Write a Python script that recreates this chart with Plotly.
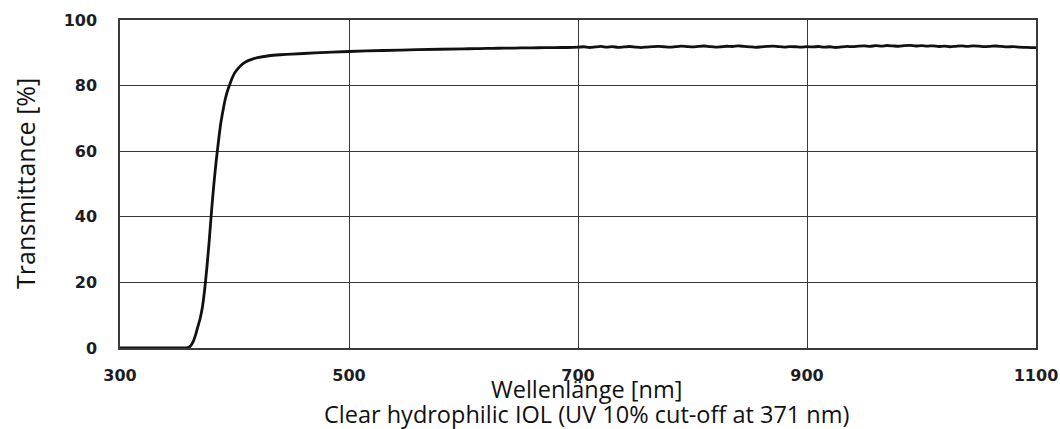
import plotly.graph_objects as go

# Wavelength [nm]
wavelength = [
    300, 320, 340, 350, 355, 358, 360, 362, 364, 366, 368, 370, 372, 374, 376, 378,
    380, 382, 384, 386, 388, 390, 392, 394, 396, 398, 400, 403, 406, 410, 415,
    420, 430, 440, 450, 470, 500, 530, 560, 600, 610, 620, 630, 640, 650, 660,
    670, 680, 690,
    700, 705, 710, 715, 720, 725, 730, 735, 740, 745, 750, 755, 760, 765, 770,
    775, 780, 785, 790, 795, 800, 805, 810, 815, 820, 825, 830, 835, 840, 845,
    850, 855, 860, 865, 870, 875, 880, 885, 890, 895, 900, 905, 910, 915, 920,
    925, 930, 935, 940, 945, 950, 955, 960, 965, 970, 975, 980, 985, 990, 995,
    1000, 1005, 1010, 1015, 1020, 1025, 1030, 1035, 1040, 1045, 1050, 1055, 1060,
    1065, 1070, 1075, 1080, 1085, 1090, 1095, 1100,
]

# Transmittance [%]
transmittance = [
    0.0, 0.0, 0.0, 0.0, 0.0, 0.05, 0.2, 0.8, 2.0, 4.0, 6.5, 9.0, 12.5, 18.0, 25.0, 33.0,
    42.0, 50.0, 57.0, 63.0, 68.5, 72.5, 76.0, 78.5, 80.5, 82.3, 83.8, 85.2, 86.3, 87.3, 88.0,
    88.5, 89.1, 89.4, 89.6, 89.95, 90.4, 90.7, 90.95, 91.2, 91.27, 91.33, 91.38, 91.43, 91.48, 91.52,
    91.55, 91.60, 91.62,
    91.70, 91.85, 91.62, 91.78, 91.95, 91.70, 91.88, 91.66, 91.80, 91.92, 91.74, 91.60, 91.76, 91.88, 91.98,
    91.84, 91.70, 91.86, 92.02, 91.90, 91.78, 91.95, 92.08, 91.88, 91.72, 91.84, 92.00, 91.92, 92.10, 91.96,
    91.82, 91.68, 91.80, 91.94, 92.04, 91.88, 91.76, 91.90, 91.84, 91.72, 91.86, 91.78, 91.92, 91.70, 91.84,
    91.62, 91.80, 91.96, 91.86, 92.04, 92.12, 91.96, 92.18, 92.06, 92.22, 92.10, 92.00, 92.16, 92.24, 92.08,
    92.20, 92.02, 92.14, 91.92, 92.06, 91.84, 91.98, 92.10, 91.96, 92.12, 92.04, 91.90, 91.98,
    92.08, 91.94, 91.80, 91.88, 91.72, 91.66, 91.60, 91.56,
]

x_ticks = [300, 500, 700, 900, 1100]
y_ticks = [0, 20, 40, 60, 80, 100]

x_title = "Wellenlänge [nm]"
y_title = "Transmittance [%]"
caption = "Clear hydrophilic IOL (UV 10% cut-off at 371 nm)"

fig = go.Figure()
fig.add_trace(go.Scatter(
    x=wavelength, y=transmittance, mode="lines",
    line=dict(color="#111111", width=2.8, shape="spline", smoothing=0.6),
    showlegend=False, hoverinfo="x+y",
))

grid_color = "#3a3a3a"
tick_font = dict(family="DejaVu Sans", size=16, color="#1c1c24", weight="bold")
text_font = dict(family="Open Sans", size=23.5, color="#111111")

fig.update_layout(
    width=1060, height=429,
    margin=dict(l=120, r=24, t=20, b=81),
    paper_bgcolor="white", plot_bgcolor="white",
    font=dict(family="Open Sans", color="#111111"),
    xaxis=dict(
        range=[300, 1100], tickvals=x_ticks, ticktext=[str(v) for v in x_ticks],
        showgrid=True, gridcolor=grid_color, gridwidth=1,
        showline=True, linecolor=grid_color, linewidth=1.5, mirror=True,
        ticks="", tickfont=tick_font, ticklabelstandoff=12, zeroline=False,
        automargin=False,
    ),
    yaxis=dict(
        range=[0, 100], tickvals=y_ticks, ticktext=[str(v) for v in y_ticks],
        showgrid=True, gridcolor=grid_color, gridwidth=1,
        showline=True, linecolor=grid_color, linewidth=1.5, mirror=True,
        ticks="", tickfont=tick_font, ticklabelstandoff=18, zeroline=False,
        automargin=False,
    ),
    annotations=[
        dict(text=x_title, xref="paper", yref="paper", x=0.509, y=0, yshift=-41,
             xanchor="center", yanchor="middle", showarrow=False, font=text_font),
        dict(text=caption, xref="paper", yref="paper", x=0.509, y=0, yshift=-66,
             xanchor="center", yanchor="middle", showarrow=False, font=text_font),
        dict(text=y_title, xref="paper", yref="paper", x=0, xshift=-95, y=0.5,
             xanchor="center", yanchor="middle", showarrow=False, textangle=-90,
             font=dict(family="Open Sans", size=25, color="#111111")),
    ],
)

fig.write_html("out.html", config={"displayModeBar": False},
               post_script="document.body.style.margin='0';")
